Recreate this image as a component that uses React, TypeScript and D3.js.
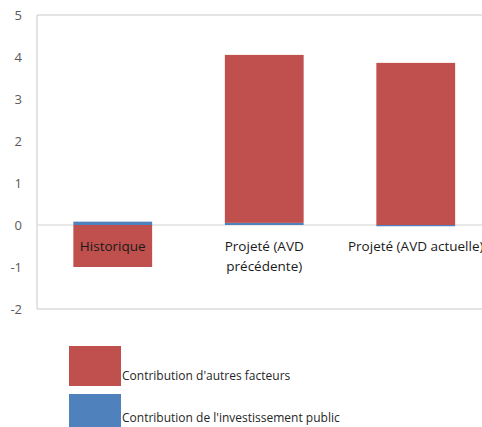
import React from "react";
import * as d3 from "d3";

const categories = ["Historique", "Projeté (AVD précédente)", "Projeté (AVD actuelle)"];
const categoryLines = [["Historique"], ["Projeté (AVD", "précédente)"], ["Projeté (AVD actuelle)"]];
const publicInvestment = [0.08, 0.05, -0.03];
const otherFactors = [-1.0, 4.0, 3.86];
const yTicks = [-2, -1, 0, 1, 2, 3, 4, 5];
const seriesNames = ["Contribution de l'investissement public", "Contribution d'autres facteurs"];
const seriesColors = ["#4f81bd", "#c0504d"];
const legendOrder = [1, 0];

const W = 482;
const H = 427;
const plot = { left: 37, top: 15, bottom: 309, right: 491.5 };
const font = "'Open Sans', 'Noto Sans', sans-serif";

export default function App() {
  const y = d3.scaleLinear().domain([-2, 5]).range([plot.bottom, plot.top]);
  const x = d3.scaleBand<string>().domain(categories).range([plot.left, plot.right]).padding(0);
  const barW = x.bandwidth() * 0.52;

  const rows = categories.map((c, i) => ({ cat: c, s0: publicInvestment[i], s1: otherFactors[i] }));
  const stacked = d3
    .stack<any>()
    .keys(["s0", "s1"])
    .offset(d3.stackOffsetDiverging)(rows);

  const legendSwatchY = [346, 394];
  const legendTextY = [380, 422];

  return (
    <svg
      width={W}
      height={H}
      style={{ position: "absolute", left: 0, top: 0, background: "#fff" }}
      fontFamily={font}
    >
      {/* plot frame */}
      <line x1={plot.left} x2={W} y1={plot.top} y2={plot.top} stroke="#c9c9c9" strokeWidth={1} />
      <line x1={plot.left} x2={W} y1={plot.bottom} y2={plot.bottom} stroke="#c9c9c9" strokeWidth={1} />
      <line x1={plot.left} x2={plot.left} y1={plot.top} y2={plot.bottom} stroke="#c9c9c9" strokeWidth={1} />
      <line x1={plot.left} x2={W} y1={y(0)} y2={y(0)} stroke="#e0e0e0" strokeWidth={1.5} />

      {/* y tick labels */}
      {yTicks.map((t) => (
        <text key={t} x={22} y={y(t)} dy="0.35em" textAnchor="end" fontSize={13} fill="#595959">
          {t}
        </text>
      ))}

      {/* stacked bars */}
      {stacked.map((layer, si) =>
        layer.map((d, i) => {
          const x0 = (x(categories[i]) as number) + (x.bandwidth() - barW) / 2;
          const top = y(Math.max(d[0], d[1]));
          const bot = y(Math.min(d[0], d[1]));
          return (
            <rect
              key={`${si}-${i}`}
              x={x0}
              y={top}
              width={barW}
              height={Math.max(0, bot - top)}
              fill={seriesColors[si]}
            />
          );
        })
      )}

      {/* category labels */}
      {categoryLines.map((lines, i) => {
        const cx = (x(categories[i]) as number) + x.bandwidth() / 2;
        return (
          <text key={i} textAnchor="middle" fontSize={13.5} fill="#1a1a1a">
            {lines.map((l, j) => (
              <tspan key={j} x={cx} y={y(0) + 21 + j * 20} dy="0.35em">
                {l}
              </tspan>
            ))}
          </text>
        );
      })}

      {/* legend */}
      {legendOrder.map((si, k) => (
        <g key={si}>
          <rect x={69} y={legendSwatchY[k]} width={52} height={40} fill={seriesColors[si]} />
          <text x={122} y={legendTextY[k]} fontSize={12} fill="#262626">
            {seriesNames[si]}
          </text>
        </g>
      ))}
    </svg>
  );
}
